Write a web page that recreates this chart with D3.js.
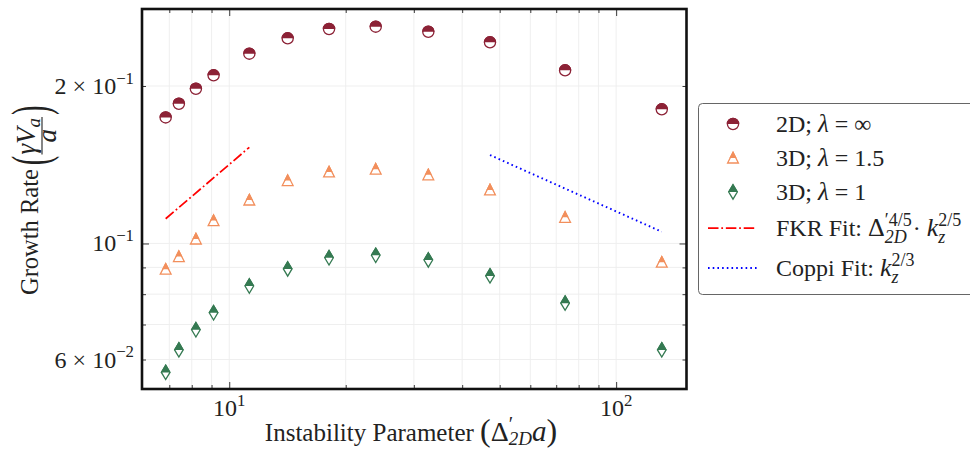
<!DOCTYPE html>
<html>
<head>
<meta charset="utf-8">
<script src="https://cdn.jsdelivr.net/npm/d3@7"></script>
<style>
  body { margin: 0; background: #fff; }
  svg text { font-family: "Liberation Serif", "DejaVu Serif", serif; fill: #222; }
</style>
</head>
<body>
<div id="chart"></div>
<script>
// instability parameter values (x) and growth rates
const deltaA = [6.85, 7.41, 8.20, 9.11, 11.27, 14.16, 18.11, 23.91, 32.7, 47.2, 73.8, 131.2];
const rate2D = [0.1742, 0.1850, 0.1976, 0.2096, 0.2306, 0.2467, 0.2570, 0.2597, 0.2540, 0.2424, 0.2143, 0.1805];
const rate3D15 = [0.0893, 0.0944, 0.1020, 0.1106, 0.1211, 0.1319, 0.1370, 0.1387, 0.1353, 0.1266, 0.1122, 0.0921];
const rate3D1 = [0.0567, 0.0626, 0.0684, 0.0737, 0.0829, 0.0894, 0.0939, 0.0949, 0.0930, 0.0867, 0.0769, 0.0626];

// fit lines (end points)
const fkrX = [6.85, 11.27];
const fkrY = [0.1115, 0.1527];
const coppiX = [47.2, 131.2];
const coppiY = [0.1476, 0.1053];

// ticks
const xMajor = [10, 100];
const xMinor = [6, 7, 8, 9, 20, 30, 40, 50, 60, 70, 80, 90];
const yMajor = [0.1];
const yMinor = [0.06, 0.07, 0.08, 0.09, 0.2];
const xTickLabels = [["10", "1"], ["10", "2"]];
const yTickLabels = [[0.2, "2 × 10", "−1"], [0.1, "10", "−1"], [0.06, "6 × 10", "−2"]];

const W = 970, H = 449;
const plot = {left: 142, right: 686.5, top: 9, bottom: 389};

const svg = d3.select("#chart").append("svg")
  .attr("width", W).attr("height", H);

const x = d3.scaleLog().domain([5.95, 152]).range([plot.left, plot.right]);
const y = d3.scaleLog().domain([0.0527, 0.2807]).range([plot.bottom, plot.top]);

/** clip for half filled markers (local marker coords) */
const defs = svg.append("defs");
defs.append("clipPath").attr("id", "tophalf")
  .append("rect").attr("x", -12).attr("y", -12).attr("width", 24).attr("height", 12);
defs.append("clipPath").attr("id", "plotclip")
  .append("rect").attr("x", plot.left).attr("y", plot.top)
  .attr("width", plot.right - plot.left).attr("height", plot.bottom - plot.top);

// gridlines
const grid = svg.append("g").attr("class", "grid");
grid.selectAll("line.gx").data(xMajor.concat(xMinor).filter(d => x(d) > plot.left + 2))
  .join("line")
  .attr("x1", d => x(d)).attr("x2", d => x(d))
  .attr("y1", plot.top).attr("y2", plot.bottom)
  .attr("stroke", "#ededed").attr("stroke-width", 0.9);
grid.selectAll("line.gy").data(yMajor.concat(yMinor))
  .join("line")
  .attr("y1", d => y(d)).attr("y2", d => y(d))
  .attr("x1", plot.left).attr("x2", plot.right)
  .attr("stroke", "#ededed").attr("stroke-width", 0.9);

// inward ticks on all four sides
function tickAxis(axisFn, scale, values, size, transform) {
  svg.append("g")
    .attr("transform", transform)
    .call(axisFn(scale).tickValues(values).tickSize(-size).tickFormat(""))
    .call(g => g.select(".domain").remove())
    .call(g => g.selectAll(".tick line").attr("stroke", "#222").attr("stroke-width", 0.9));
}
const xMinorIn = xMinor.filter(d => x(d) > plot.left + 2);
tickAxis(d3.axisBottom, x, xMajor, 7, `translate(0,${plot.bottom})`);
tickAxis(d3.axisBottom, x, xMinorIn, 4, `translate(0,${plot.bottom})`);
tickAxis(d3.axisTop, x, xMajor, 7, `translate(0,${plot.top})`);
tickAxis(d3.axisTop, x, xMinorIn, 4, `translate(0,${plot.top})`);
tickAxis(d3.axisLeft, y, yMajor, 7, `translate(${plot.left},0)`);
tickAxis(d3.axisLeft, y, yMinor, 4, `translate(${plot.left},0)`);
tickAxis(d3.axisRight, y, yMajor, 7, `translate(${plot.right},0)`);
tickAxis(d3.axisRight, y, yMinor, 4, `translate(${plot.right},0)`);

/** rich text helper: parts {t, it, s:'sup'|'sub', back, fs} */
function rich(text, parts, fs, subOff) {
  let cur = 0, lastW = 0;
  parts.forEach(p => {
    const off = p.s === "sup" ? -0.42 : p.s === "sub" ? (subOff || 0.28) : 0;
    const sz = p.fs || (p.s ? fs * 0.7 : fs);
    const ts = text.append("tspan").text(p.t)
      .attr("dy", (off - cur) * fs)
      .attr("font-size", sz);
    if (p.it) ts.attr("font-style", "italic");
    if (p.back) ts.attr("dx", -lastW);
    lastW = ts.node().getComputedTextLength();
    cur = off;
  });
  return text;
}

// tick labels
xMajor.forEach((v, i) => {
  const t = svg.append("text").attr("x", x(v)).attr("y", 416)
    .attr("text-anchor", "middle").attr("font-size", 24);
  rich(t, [{t: xTickLabels[i][0]}, {t: xTickLabels[i][1], s: "sup"}], 24);
});
yTickLabels.forEach(d => {
  const t = svg.append("text").attr("x", 134).attr("y", y(d[0]) + 8)
    .attr("text-anchor", "end").attr("font-size", 24);
  rich(t, [{t: d[1]}, {t: d[2], s: "sup"}], 24);
});

// fit lines
const line = d3.line().x(d => x(d[0])).y(d => y(d[1]));
const marks = svg.append("g").attr("clip-path", "url(#plotclip)");
marks.append("path").datum(d3.zip(fkrX, fkrY))
  .attr("d", line).attr("fill", "none").attr("stroke", "#ff0000")
  .attr("stroke-width", 1.75).attr("stroke-dasharray", "10.5,2.8,1.75,2.8");
marks.append("path").datum(d3.zip(coppiX, coppiY))
  .attr("d", line).attr("fill", "none").attr("stroke", "#0000ff")
  .attr("stroke-width", 1.9).attr("stroke-dasharray", "1.6,3.1");

// marker shapes
const shapes = {
  circle: "M0,-5.6A5.6,5.6 0 1,1 0,5.6A5.6,5.6 0 1,1 0,-5.6Z",
  triangle: "M0,-5.6L5.4,5L-5.4,5Z",
  diamond: "M0,-7.2L4.3,0L0,7.2L-4.3,0Z"
};
function marker(g, shape, color) {
  g.append("path").attr("d", shapes[shape]).attr("fill", "#fff")
    .attr("stroke", color).attr("stroke-width", 1.3);
  g.append("path").attr("d", shapes[shape]).attr("fill", color)
    .attr("stroke", color).attr("stroke-width", 1.3)
    .attr("clip-path", "url(#tophalf)");
}

const series = [
  {name: "2D", vals: rate2D, shape: "circle", color: "#8c2236"},
  {name: "3D15", vals: rate3D15, shape: "triangle", color: "#f28f5c"},
  {name: "3D1", vals: rate3D1, shape: "diamond", color: "#357a52"}
];
series.forEach(s => {
  marks.selectAll(null).data(d3.zip(deltaA, s.vals)).join("g")
    .attr("transform", d => `translate(${x(d[0])},${y(d[1])})`)
    .each(function() { marker(d3.select(this), s.shape, s.color); });
});

// frame
svg.append("rect")
  .attr("x", plot.left).attr("y", plot.top)
  .attr("width", plot.right - plot.left).attr("height", plot.bottom - plot.top)
  .attr("fill", "none").attr("stroke", "#111").attr("stroke-width", 2.6);

// x label
const xl = svg.append("text").attr("x", 411).attr("y", 441)
  .attr("text-anchor", "middle").attr("font-size", 25);
rich(xl, [
  {t: "Instability Parameter "}, {t: "(", fs: 32}, {t: "Δ", fs: 28},
  {t: "′", s: "sup", fs: 20}, {t: "2D", s: "sub", it: true, back: true, fs: 19},
  {t: "a", it: true, fs: 29}, {t: ")", fs: 32}
], 25, 0.17);

// y label (rotated)
const yl = svg.append("g").attr("transform", "translate(38,191) rotate(-90)");
const gr = yl.append("text").attr("x", -104).attr("y", 0).attr("font-size", 24.5).text("Growth Rate");
let cx = -104 + gr.node().getComputedTextLength() + 4;
const pScale = 0.55;
const lp = yl.append("text").attr("x", cx).attr("y", 10).attr("font-size", 52)
  .attr("transform", `translate(${cx},0) scale(${pScale},1) translate(${-cx},0)`).text("(");
cx += lp.node().getComputedTextLength() * pScale + 1;
const num = yl.append("text").attr("x", cx).attr("y", -3).attr("font-size", 27);
rich(num, [{t: "γV", it: true}, {t: "a", it: true, s: "sub"}], 27, 0.2);
const numW = num.node().getComputedTextLength();
yl.append("line").attr("x1", cx).attr("x2", cx + numW + 1)
  .attr("y1", 4).attr("y2", 4).attr("stroke", "#222").attr("stroke-width", 1.1);
yl.append("text").attr("x", cx + (numW + 1) / 2).attr("y", 18).attr("text-anchor", "middle")
  .attr("font-size", 27).attr("font-style", "italic").text("a");
cx += numW + 3;
yl.append("text").attr("x", cx).attr("y", 10).attr("font-size", 52)
  .attr("transform", `translate(${cx},0) scale(${pScale},1) translate(${-cx},0)`).text(")");

// legend
const lg = svg.append("g");
lg.append("rect").attr("x", 698.5).attr("y", 103.5).attr("width", 290).attr("height", 191)
  .attr("rx", 4).attr("fill", "#fff").attr("stroke", "#666").attr("stroke-width", 1);
const legRows = [124, 158, 192, 228, 268];
series.forEach((s, i) => {
  const g = lg.append("g").attr("transform", `translate(733,${legRows[i]})`);
  marker(g, s.shape, s.color);
});
lg.append("line").attr("x1", 708).attr("x2", 757).attr("y1", legRows[3]).attr("y2", legRows[3])
  .attr("stroke", "#ff0000").attr("stroke-width", 1.75).attr("stroke-dasharray", "10.5,2.8,1.75,2.8");
lg.append("line").attr("x1", 708).attr("x2", 757).attr("y1", legRows[4]).attr("y2", legRows[4])
  .attr("stroke", "#0000ff").attr("stroke-width", 1.9).attr("stroke-dasharray", "1.6,3.1");

const legText = [
  [{t: "2D; "}, {t: "λ", it: true, fs: 25}, {t: " = ∞"}],
  [{t: "3D; "}, {t: "λ", it: true, fs: 25}, {t: " = 1.5"}],
  [{t: "3D; "}, {t: "λ", it: true, fs: 25}, {t: " = 1"}],
  [{t: "FKR Fit: "}, {t: "Δ", fs: 26}, {t: "′4/5", s: "sup", fs: 18}, {t: "2D", s: "sub", it: true, back: true, fs: 18},
   {t: " · "}, {t: "k", it: true, fs: 26}, {t: "z", s: "sub", it: true, fs: 18}, {t: "2/5", s: "sup", back: true, fs: 18}],
  [{t: "Coppi Fit: "}, {t: "k", it: true, fs: 26}, {t: "z", s: "sub", it: true, fs: 18}, {t: "2/3", s: "sup", back: true, fs: 18}]
];
legText.forEach((parts, i) => {
  const t = lg.append("text").attr("x", 776).attr("y", legRows[i] + 8).attr("font-size", 24);
  rich(t, parts, 24);
});
</script>
</body>
</html>
